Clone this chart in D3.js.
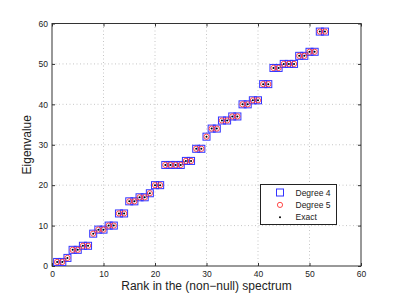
<!DOCTYPE html>
<html>
<head>
<meta charset="utf-8">
<script src="https://cdn.jsdelivr.net/npm/d3@7"></script>
<style>
  body { margin: 0; background: #fff; }
  svg { display: block; font-family: "Liberation Sans", Arial, Helvetica, sans-serif; }
</style>
</head>
<body>
<svg id="chart" width="399" height="300"></svg>
<script>
// rango y autovalor (los tres métodos coinciden)
const ranks = d3.range(1, 54);
const eigen = [1, 1, 2, 4, 4, 5, 5, 8, 9, 9, 10, 10, 13, 13, 16, 16, 17, 17, 18, 20, 20,
  25, 25, 25, 25, 26, 26, 29, 29, 32, 34, 34, 36, 36, 37, 37, 40, 40, 41, 41,
  45, 45, 49, 49, 50, 50, 50, 52, 52, 53, 53, 58, 58];
const xTicks = [0, 10, 20, 30, 40, 50, 60];
const yTicks = [0, 10, 20, 30, 40, 50, 60];
const series = ["Degree 4", "Degree 5", "Exact"];

const svg = d3.select("#chart");
const mLeft = 52, mRight = 361, mTop = 23.5, mBottom = 266;

const x = d3.scaleLinear().domain([0, 60]).range([mLeft, mRight]);
const y = d3.scaleLinear().domain([0, 60]).range([mBottom, mTop]);

const datos = ranks.map((r, i) => ({ r, v: eigen[i] }));

// rejilla
const grid = svg.append("g");
grid.selectAll(".gx").data(xTicks.slice(1, -1)).join("line")
  .attr("x1", d => x(d)).attr("x2", d => x(d))
  .attr("y1", mTop).attr("y2", mBottom)
  .attr("stroke", "#b8b8b8").attr("stroke-width", 0.8).attr("stroke-dasharray", "1,2.5");
grid.selectAll(".gy").data(yTicks.slice(1, -1)).join("line")
  .attr("x1", mLeft).attr("x2", mRight)
  .attr("y1", d => y(d)).attr("y2", d => y(d))
  .attr("stroke", "#b8b8b8").attr("stroke-width", 0.8).attr("stroke-dasharray", "1,2.5");

// ejes (caja con marcas hacia dentro)
svg.append("g").attr("transform", `translate(0,${mBottom})`)
  .call(d3.axisBottom(x).tickValues(xTicks).tickSizeInner(-3).tickSizeOuter(0).tickPadding(5))
  .call(g => g.select(".domain").remove());
svg.append("g").attr("transform", `translate(0,${mTop})`)
  .call(d3.axisTop(x).tickValues(xTicks).tickSizeInner(-3).tickSizeOuter(0).tickFormat(""))
  .call(g => g.select(".domain").remove());
svg.append("g").attr("transform", `translate(${mLeft},0)`)
  .call(d3.axisLeft(y).tickValues(yTicks).tickSizeInner(-3).tickSizeOuter(0).tickPadding(4))
  .call(g => g.select(".domain").remove());
svg.append("g").attr("transform", `translate(${mRight},0)`)
  .call(d3.axisRight(y).tickValues(yTicks).tickSizeInner(-3).tickSizeOuter(0).tickFormat(""))
  .call(g => g.select(".domain").remove());
svg.selectAll(".tick text").attr("font-size", 8.5).attr("fill", "#222")
  .attr("font-family", "'Liberation Sans', Arial, sans-serif");
svg.selectAll(".tick line").attr("stroke", "#333");

svg.append("rect")
  .attr("x", mLeft).attr("y", mTop)
  .attr("width", mRight - mLeft).attr("height", mBottom - mTop)
  .attr("fill", "none").attr("stroke", "#333").attr("stroke-width", 1);

// marcadores
const pts = svg.append("g");
pts.selectAll(".sq").data(datos).join("rect")
  .attr("x", d => x(d.r) - 3.5).attr("y", d => y(d.v) - 3.5)
  .attr("width", 7).attr("height", 7)
  .attr("fill", "none").attr("stroke", "#3333ff").attr("stroke-width", 1);
pts.selectAll(".ci").data(datos).join("circle")
  .attr("cx", d => x(d.r)).attr("cy", d => y(d.v)).attr("r", 2.6)
  .attr("fill", "none").attr("stroke", "#ff3333").attr("stroke-width", 0.9);
pts.selectAll(".dot").data(datos).join("circle")
  .attr("cx", d => x(d.r)).attr("cy", d => y(d.v)).attr("r", 1)
  .attr("fill", "#000");

// etiquetas de ejes
svg.append("text")
  .attr("x", (mLeft + mRight) / 2).attr("y", 290)
  .attr("text-anchor", "middle").attr("font-size", 12).attr("fill", "#222")
  .text("Rank in the (non\u2212null) spectrum");
svg.append("text")
  .attr("transform", `translate(31,${(mTop + mBottom) / 2}) rotate(-90)`)
  .attr("text-anchor", "middle").attr("font-size", 12).attr("fill", "#222")
  .text("Eigenvalue");

// leyenda
const leg = svg.append("g");
leg.append("rect").attr("x", 260.5).attr("y", 184.5).attr("width", 76).attr("height", 40)
  .attr("fill", "#fff").attr("stroke", "#222").attr("stroke-width", 1);
const filas = leg.selectAll(".fila").data(series).join("g")
  .attr("transform", (d, i) => `translate(280,${192.5 + i * 12.4})`);
filas.filter((d, i) => i === 0).append("rect")
  .attr("x", -3.5).attr("y", -3.5).attr("width", 7).attr("height", 7)
  .attr("fill", "none").attr("stroke", "#3333ff");
filas.filter((d, i) => i === 1).append("circle")
  .attr("r", 2.6).attr("fill", "none").attr("stroke", "#ff3333").attr("stroke-width", 0.9);
filas.filter((d, i) => i === 2).append("circle")
  .attr("r", 1).attr("fill", "#000");
filas.append("text").attr("x", 15.5).attr("y", 3)
  .attr("font-size", 8.5).attr("fill", "#222").text(d => d);
</script>
</body>
</html>
